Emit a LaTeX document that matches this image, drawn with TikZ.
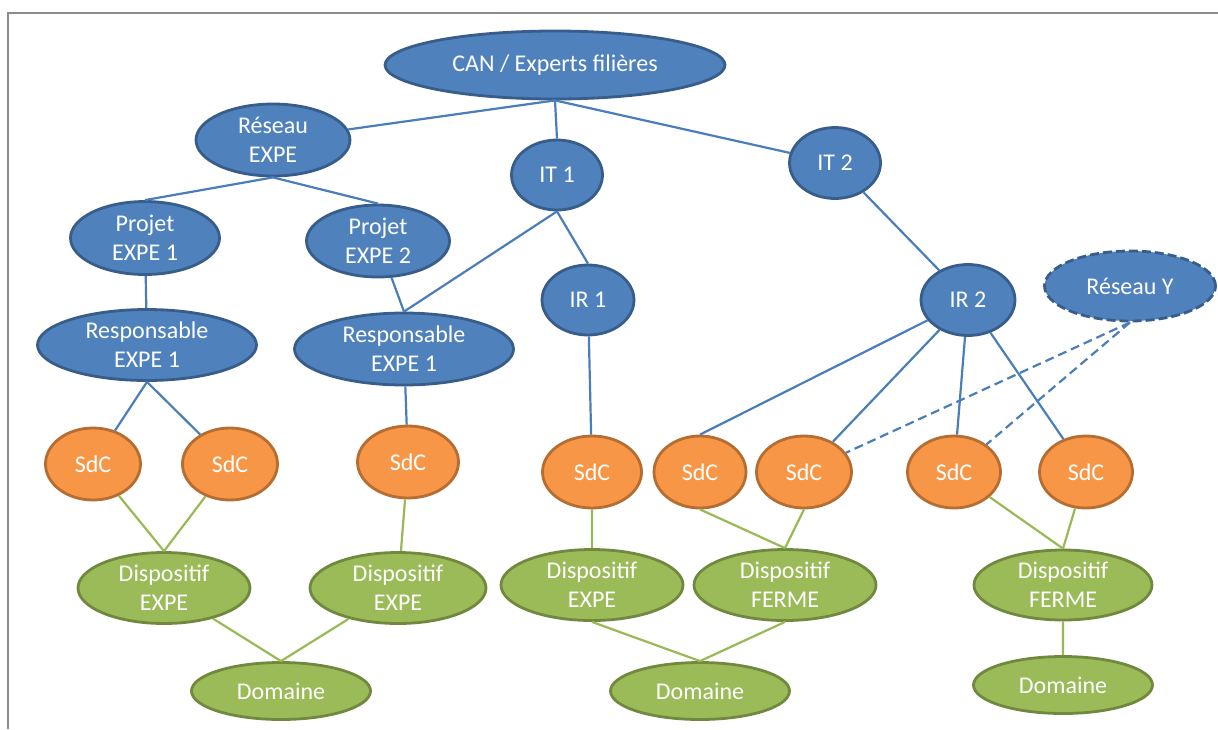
\documentclass[tikz,border=0pt]{standalone}
\usepackage{fontspec}
\setmainfont{Carlito}
\usetikzlibrary{shapes.geometric}
\definecolor{bfill}{HTML}{4F81BD}
\definecolor{bline}{HTML}{385D8A}
\definecolor{ofill}{HTML}{F79646}
\definecolor{oline}{HTML}{B66D31}
\definecolor{gfill}{HTML}{9BBB59}
\definecolor{gline}{HTML}{71893F}
\definecolor{bconn}{HTML}{4A7EBB}
\definecolor{gconn}{HTML}{98B954}
\definecolor{framecol}{HTML}{8C8C8C}
\tikzset{
  ell/.style={ellipse, inner sep=0pt, line width=2.8pt, text=white, align=center,
    font=\fontsize{24}{29}\selectfont},
  bnode/.style={ell, fill=bfill, draw=bline},
  onode/.style={ell, fill=ofill, draw=oline, minimum width=95pt, minimum height=72pt},
  gnode/.style={ell, fill=gfill, draw=gline},
  bconnector/.style={draw=bconn, line width=2.2pt},
  bdashed/.style={bconnector, dash pattern=on 9pt off 5pt},
  gconnector/.style={draw=gconn, line width=2.2pt},
}
\begin{document}
\begin{tikzpicture}[x=1pt,y=-1pt]
\useasboundingbox (0,0) rectangle (1218,729);
\draw[framecol, line width=1.5pt] (8,729) -- (8,13) -- (1218,13);
% blue nodes
\node[bnode, minimum width=340pt, minimum height=68pt] (can) at (555,65) {CAN / Experts filières};
\node[bnode, minimum width=154pt, minimum height=72pt] (reseau) at (273,140) {Réseau\\EXPE};
\node[bnode, minimum width=91pt, minimum height=70pt] (it1) at (557,175) {IT 1};
\node[bnode, minimum width=91pt, minimum height=71pt] (it2) at (835,163) {IT 2};
\node[bnode, minimum width=149pt, minimum height=73pt] (proj1) at (145,238) {Projet\\EXPE 1};
\node[bnode, minimum width=143pt, minimum height=72pt] (proj2) at (378,241) {Projet\\EXPE 2};
\node[bnode, minimum width=92pt, minimum height=70pt] (ir1) at (588,300) {IR 1};
\node[bnode, minimum width=94pt, minimum height=71pt] (ir2) at (968,300) {IR 2};
\node[bnode, dash pattern=on 9pt off 4pt, minimum width=171pt, minimum height=70pt] (resy) at (1130,286) {Réseau Y};
\node[bnode, minimum width=219pt, minimum height=71pt] (resp1) at (147,345) {Responsable\\EXPE 1};
\node[bnode, minimum width=219pt, minimum height=72pt] (resp2) at (404,349) {Responsable\\EXPE 1};
% orange nodes
\node[onode] (s1) at (93,464) {SdC};
\node[onode] (s2) at (230,464) {SdC};
\node[onode, minimum width=101pt] (s3) at (408,462) {SdC};
\node[onode, minimum width=99pt] (s4) at (592,472) {SdC};
\node[onode, minimum width=92pt] (s5) at (700,472) {SdC};
\node[onode] (s6) at (804,472) {SdC};
\node[onode, minimum width=93pt] (s7) at (954,472) {SdC};
\node[onode, minimum width=93pt] (s8) at (1086,472) {SdC};
% green nodes
\node[gnode, minimum width=172pt, minimum height=71pt] (d1) at (164,588) {Dispositif\\EXPE};
\node[gnode, minimum width=176pt, minimum height=71pt] (d2) at (398,588) {Dispositif\\EXPE};
\node[gnode, minimum width=182pt, minimum height=71pt] (d3) at (592,585) {Dispositif\\EXPE};
\node[gnode, minimum width=182pt, minimum height=71pt] (d4) at (785,585) {Dispositif\\FERME};
\node[gnode, minimum width=178pt, minimum height=70pt] (d5) at (1063,585) {Dispositif\\FERME};
\node[gnode, minimum width=179pt, minimum height=57pt] (m1) at (281,691) {Domaine};
\node[gnode, minimum width=179pt, minimum height=57pt] (m2) at (700,691) {Domaine};
\node[gnode, minimum width=179pt, minimum height=57pt] (m3) at (1063,685) {Domaine};
% blue connectors
\path[bconnector] (can.south) -- (reseau) (can.south) -- (it1.north) (can.south) -- (it2)
  (reseau.south) -- (proj1.north) (reseau.south) -- (proj2.north)
  (proj1) -- (resp1) (proj2) -- (resp2.north) (it1.south) -- (resp2.north) (it1.south) -- (ir1.north)
  (it2) -- (ir2) (ir1) -- (s4)
  (resp1.south) -- (s1) (resp1.south) -- (s2) (resp2) -- (s3)
  (ir2) -- (s5.north) (ir2) -- (s6) (ir2) -- (s7) (ir2) -- (s8);
\path[bdashed] (resy.south) -- (s6) (resy.south) -- (s7);
% green connectors
\path[gconnector] (s1) -- (d1.north) (s2) -- (d1.north) (s3) -- (d2)
  (s4) -- (d3) (s5.south) -- (d4.north) (s6.south) -- (d4.north)
  (s7) -- (d5.north) (s8) -- (d5.north)
  (d1) -- (m1.north) (d2) -- (m1.north)
  (d3.south) -- (m2.north) (d4.south) -- (m2.north) (d5) -- (m3);
\end{tikzpicture}
\end{document}
